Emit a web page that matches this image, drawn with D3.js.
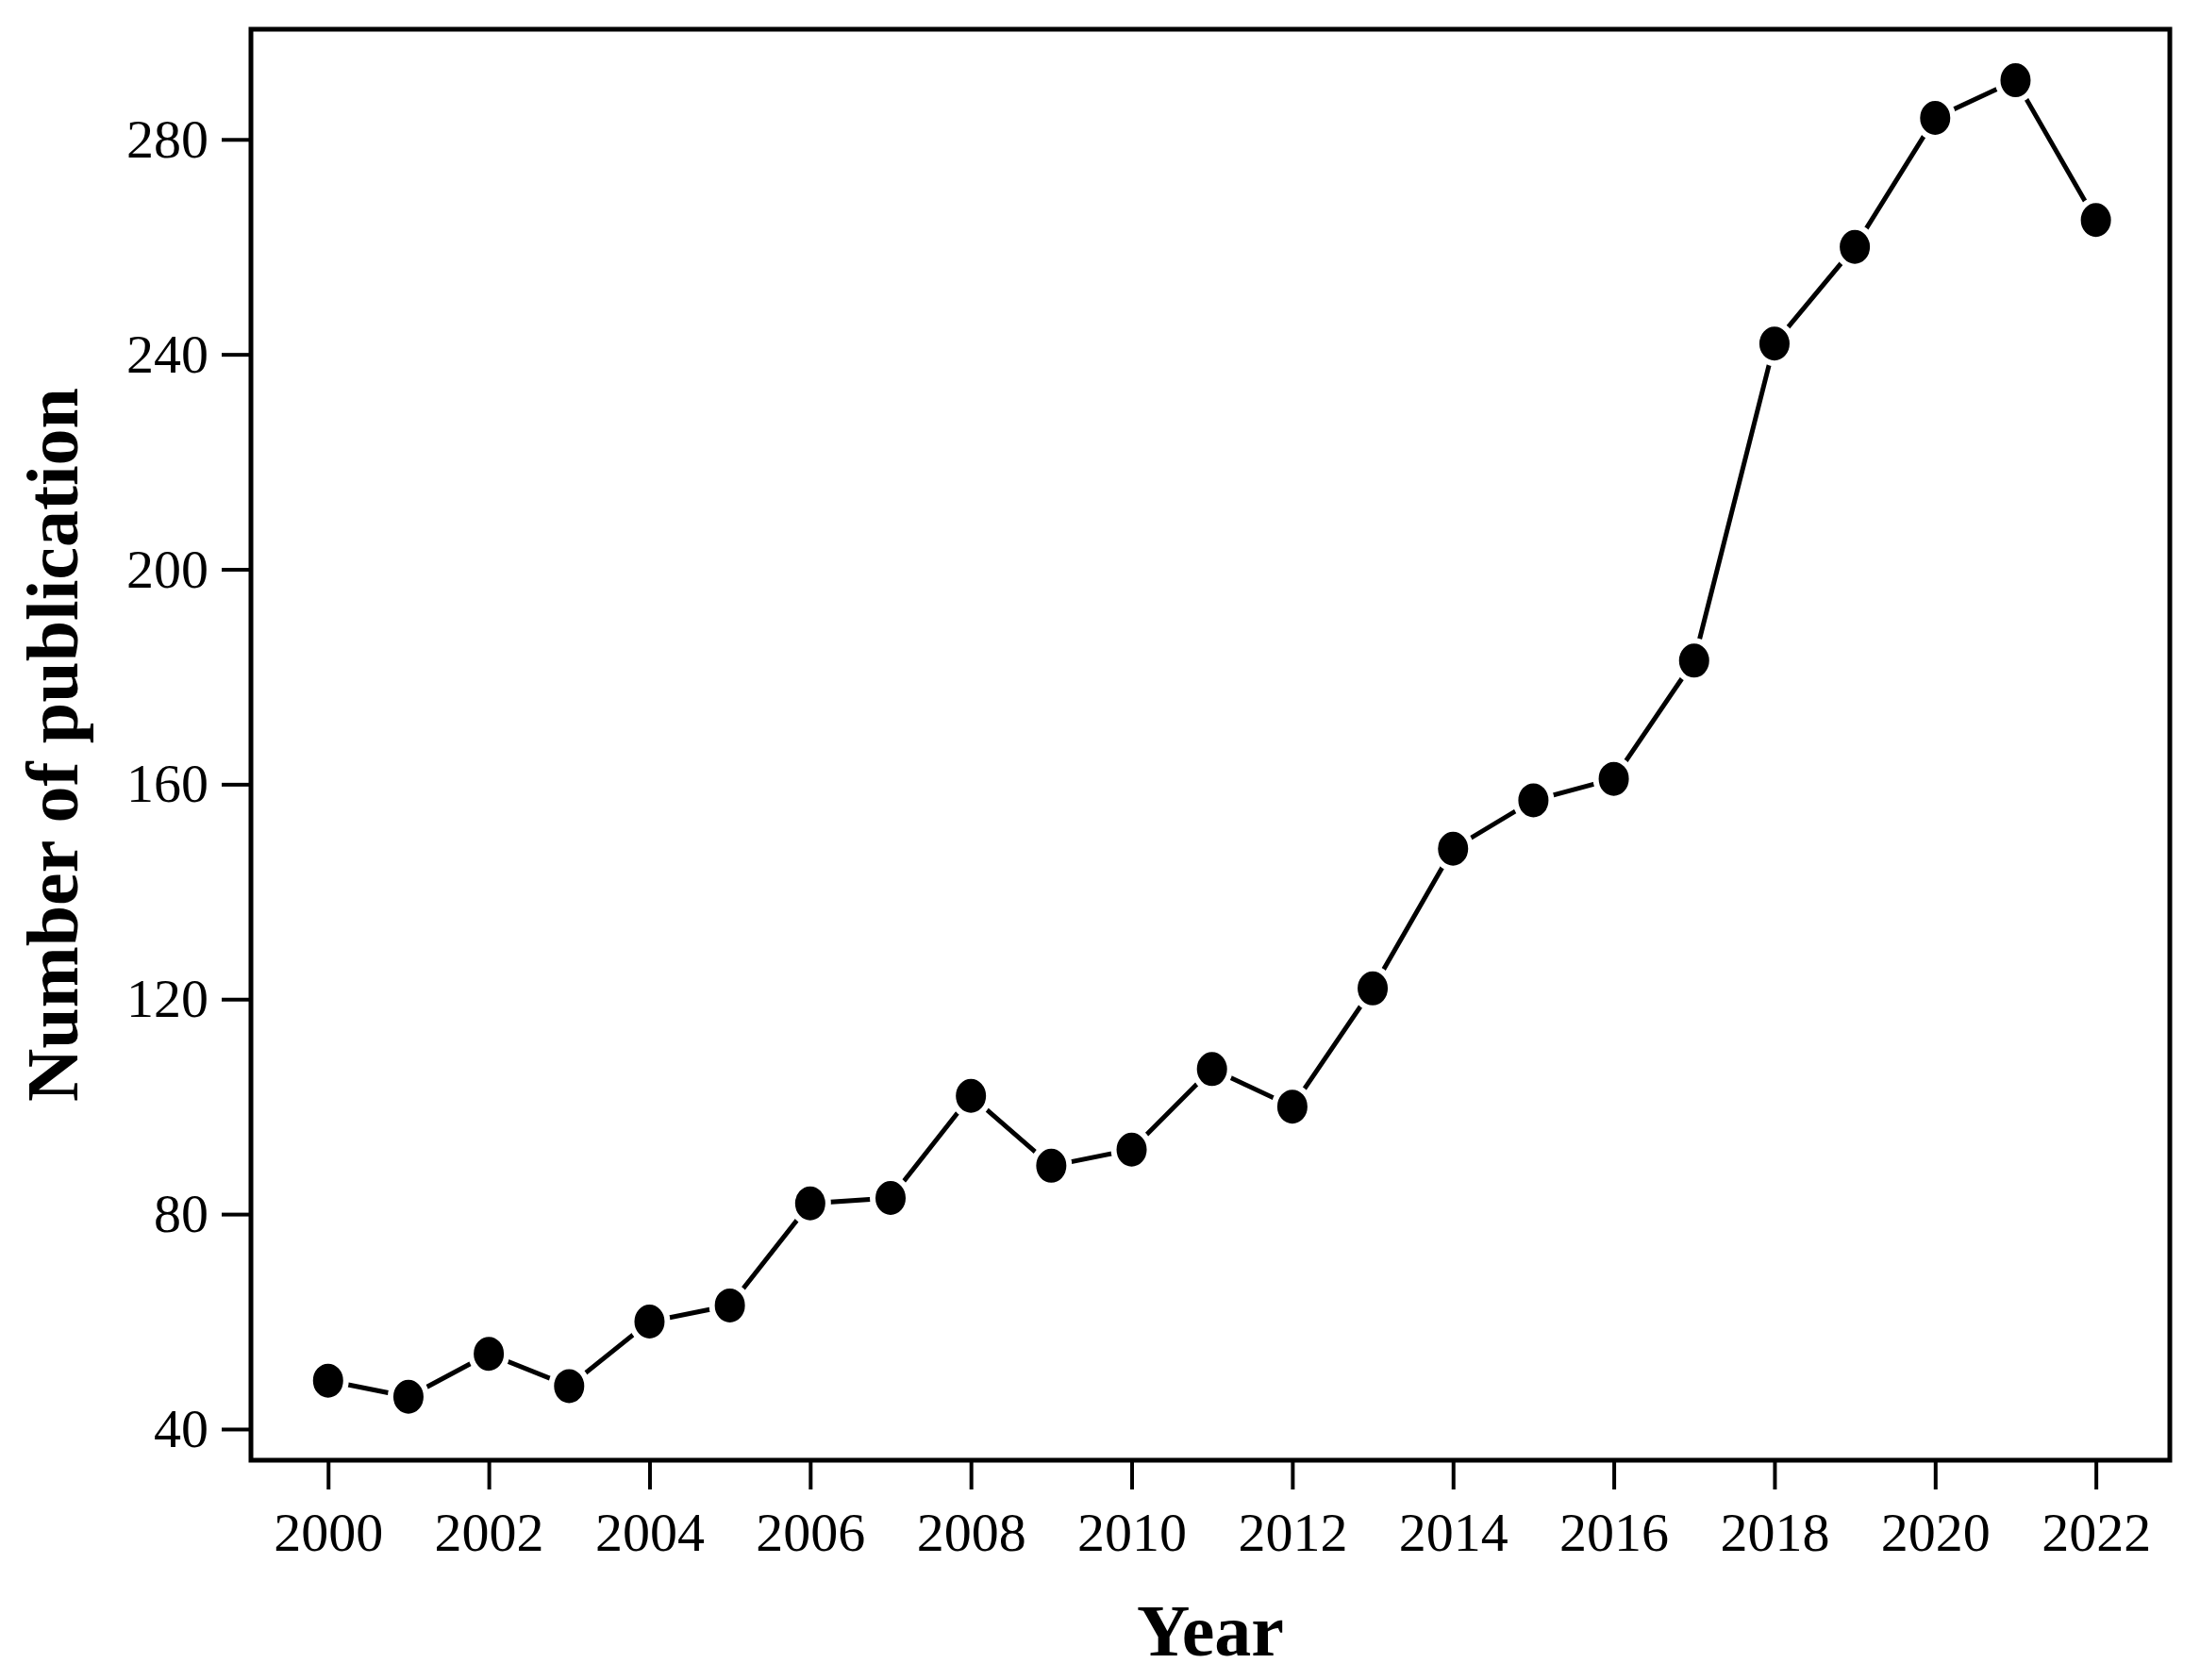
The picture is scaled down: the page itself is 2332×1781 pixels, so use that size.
<!DOCTYPE html>
<html><head><meta charset="utf-8">
<script src="https://cdn.jsdelivr.net/npm/d3@7.9.0/dist/d3.min.js"></script>
<style>body{margin:0;background:#fff}svg{display:block}svg text{font-family:"Liberation Serif","Times New Roman",serif}</style>
</head><body><div id="chart"></div>
<script>
const years = d3.range(2000, 2023);
const publications = [49, 46, 54, 48, 60, 63, 82, 83, 102, 89, 92, 107, 100, 122, 148, 157, 161, 183, 242, 260, 284, 291, 265];
const yTicks = [40, 80, 120, 160, 200, 240, 280];

const width = 2332, height = 1781;
const margin = {left: 266, right: 32, top: 31, bottom: 233};
const x = d3.scaleLinear().domain([1999.04, 2022.92]).range([margin.left, width - margin.right]);
const y = d3.scaleLinear().domain([34.2, 300.5]).range([height - margin.bottom, margin.top]);

const svg = d3.select('#chart').append('svg').attr('width', width).attr('height', height);

// frame
svg.append('rect').attr('x', margin.left).attr('y', margin.top)
  .attr('width', width - margin.left - margin.right).attr('height', height - margin.top - margin.bottom)
  .attr('fill', 'none').attr('stroke', '#000').attr('stroke-width', 5);

const xAxis = svg.append('g').attr('transform', `translate(0,${height - margin.bottom})`);
xAxis.call(d3.axisBottom(x).tickValues(d3.range(1999, 2024)).tickSize(16).tickFormat(''));
xAxis.call(d3.axisBottom(x).tickValues(d3.range(2000, 2023, 2)).tickSize(31).tickPadding(24).tickFormat(d3.format('d')));
xAxis.selectAll('.domain').remove();
xAxis.selectAll('line').attr('stroke-width', 4);
xAxis.selectAll('text').attr('font-size', 58).attr('fill', '#000');

const yAxis = svg.append('g').attr('transform', `translate(${margin.left},0)`);
yAxis.call(d3.axisLeft(y).tickValues(d3.range(40, 300, 20)).tickSize(16).tickFormat(''));
yAxis.call(d3.axisLeft(y).tickValues(yTicks).tickSize(31).tickPadding(14));
yAxis.selectAll('.domain').remove();
yAxis.selectAll('line').attr('stroke-width', 4);
yAxis.selectAll('text').attr('font-size', 58).attr('fill', '#000');

const data = years.map((yr, i) => ({yr, v: publications[i]}));
svg.append('path').datum(data)
  .attr('d', d3.line().x(d => x(d.yr)).y(d => y(d.v)))
  .attr('fill', 'none').attr('stroke', '#000').attr('stroke-width', 5);
svg.selectAll('ellipse.pt').data(data).enter().append('ellipse').attr('class', 'pt')
  .attr('cx', d => x(d.yr)).attr('cy', d => y(d.v)).attr('rx', 19).attr('ry', 21)
  .attr('fill', '#000').attr('stroke', '#fff').attr('stroke-width', 6);

svg.append('text').attr('x', (margin.left + width - margin.right) / 2).attr('y', 1755)
  .attr('text-anchor', 'middle').attr('font-size', 78).attr('font-weight', 'bold').text('Year');
svg.append('text').attr('transform', `translate(82,${(margin.top + height - margin.bottom) / 2}) rotate(-90)`)
  .attr('text-anchor', 'middle').attr('font-size', 78).attr('font-weight', 'bold').text('Number of publication');
</script></body></html>
